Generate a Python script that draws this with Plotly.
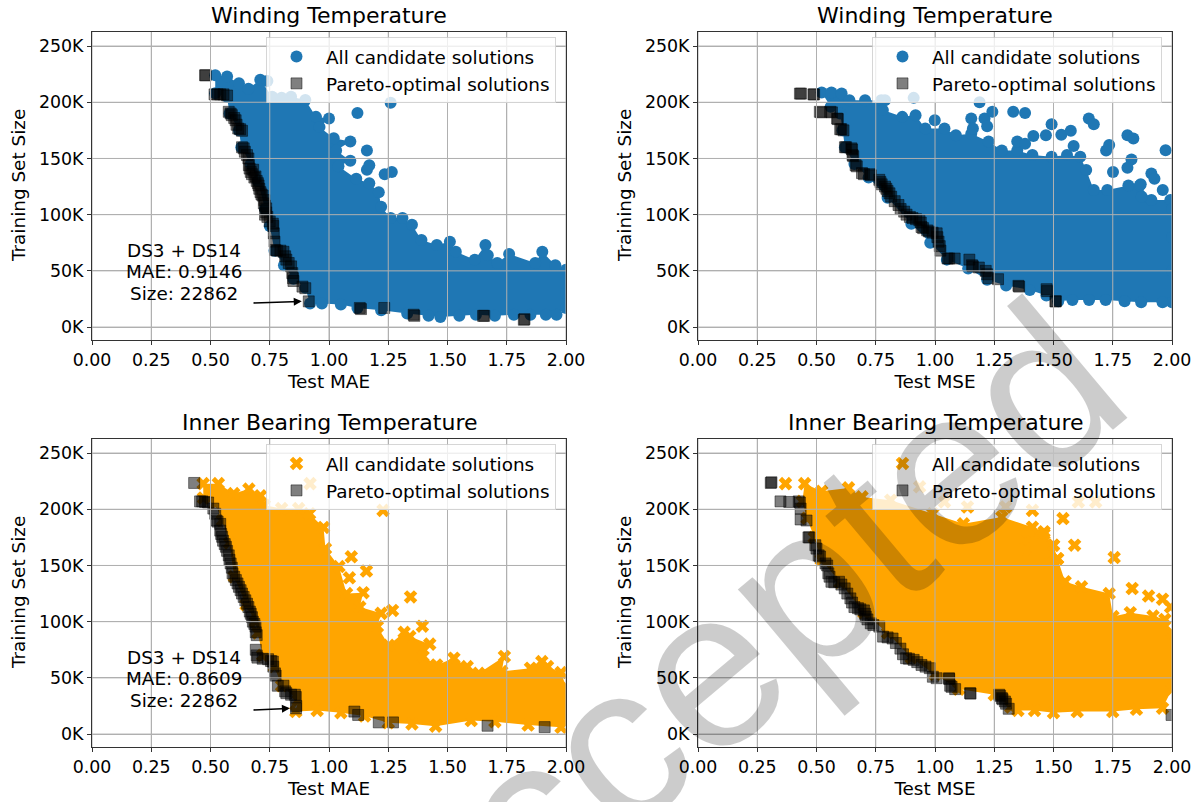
import plotly.graph_objects as go

W, H = 1200, 802
FONT = "DejaVu Sans"
BLUE = "#1f77b4"
ORANGE = "#ffa500"

x_ticks = [0, 0.25, 0.5, 0.75, 1.0, 1.25, 1.5, 1.75, 2.0]
x_tick_labels = ["0.00", "0.25", "0.50", "0.75", "1.00", "1.25", "1.50", "1.75", "2.00"]
y_ticks = [0, 50000, 100000, 150000, 200000, 250000]
y_tick_labels = ["0K", "50K", "100K", "150K", "200K", "250K"]

# ---- Winding MAE (sizes in thousands)
wm_edge_x = [0.52,0.57,0.62,0.66,0.71,0.76,0.84,0.90,0.945,1.00,0.96,1.02,1.09,1.03,1.09,1.04,1.115,1.17,1.21,1.22,1.26,1.31,1.35,1.39,1.455,1.51,1.535,1.615,1.66,1.67,1.71,1.76,1.87,1.90,1.955,2.0,2.0,2.0,1.96,1.915,1.85,1.78,1.70,1.62,1.55,1.47,1.42,1.33,1.22,1.12,1.05,0.97,0.92,0.90,0.85,0.81,0.77,0.75,0.73,0.70,0.67,0.63,0.62,0.58,0.57,0.52]
wm_edge_y = [224,223,217,212,220,205,205,202,187,185.5,178,168,165,157,148,143,132,128,120,107,97,97,91,77.5,73,76,67,60,73,64,57,65,57,67,55,51,30,17,11,11,11,11,10,11,10,9,10,12,15,17,20,21,21,35,43,55,68,90,105,130,145,160,175,190,205,208]
wm_out_x = [1.12,1.26,1.16,1.16,1.17,1.235,1.265,0.74,0.80]
wm_out_y = [190.5,199.5,157,140,144,136,138,219,204]
wm_par_x = [0.477,0.48,0.517,0.53,0.541,0.555,0.57,0.577,0.585,0.59,0.60,0.606,0.61,0.617,0.625,0.633,0.633,0.64,0.645,0.654,0.66,0.662,0.665,0.67,0.675,0.68,0.685,0.69,0.695,0.70,0.703,0.706,0.711,0.715,0.72,0.727,0.725,0.73,0.735,0.73,0.735,0.74,0.75,0.763,0.765,0.767,0.77,0.772,0.78,0.795,0.808,0.815,0.82,0.83,0.84,0.845,0.848,0.85,0.888,0.90,0.9146,1.13,1.135,1.233,1.357,1.36,1.65,1.655,1.822,1.825]
wm_par_y = [224,224,207,207,207,207,206,191.5,190,188.5,186,184,180,176.6,176,174.6,160,159,156,153,150,144,141,138,136,140,133,134,130,128,126,123,120,118,117,113,110,108,105.6,100,102,98,94,92,90,83.4,76,68.6,68,68,67,63,60,57,54,48,43.5,41,36,34.6,22.862,17,16,17,11,10,10,10,6.5,7]

# ---- Winding MSE
ws_edge_x = [0.522,0.563,0.606,0.639,0.705,0.773,0.789,0.78,0.862,0.918,0.959,1.04,1.088,1.153,1.226,1.282,1.347,1.411,1.492,1.557,1.613,1.638,1.67,1.727,1.816,1.864,1.913,1.993,2.0,2.0,2.0,2.0,1.96,1.87,1.80,1.72,1.65,1.58,1.52,1.47,1.40,1.30,1.22,1.14,1.05,0.98,0.90,0.80,0.72,0.66,0.62,0.61,0.60,0.56]
ws_edge_y = [208.6,208.6,207.7,201.8,201.8,201.8,201.8,193,187,188.5,176.6,176.6,170.7,172,165,157,157,153,151.5,153,151.5,139.7,122,122,126,126,113,113,105,80,50,22,22,22,23,24,24,24,23,28,33,37,42,52,60,75,92,115,133,145,160,175,190,196]
ws_out_x = [0.91,1.188,0.999,1.153,1.209,1.242,1.22,1.16,1.33,1.38,1.492,1.533,1.573,1.415,1.468,1.347,1.38,1.585,1.649,1.67,1.735,1.722,1.812,1.837,1.973,1.829,1.812,1.751,1.913,1.926,1.868,1.961,1.872]
ws_out_y = [203.9,200,184,185.5,185.5,191.5,178.7,176.6,191.5,190.5,180.5,171,174.6,170,170.7,165,163,161,185.5,180.5,162,157,170.7,167.8,157.4,149,141.7,138,136.7,132,127,122,116]
ws_par_x = [0.43,0.435,0.487,0.49,0.514,0.52,0.558,0.565,0.587,0.59,0.60,0.605,0.614,0.62,0.625,0.647,0.65,0.652,0.655,0.665,0.67,0.692,0.70,0.724,0.73,0.765,0.77,0.775,0.789,0.795,0.80,0.808,0.815,0.83,0.846,0.855,0.87,0.88,0.894,0.905,0.92,0.934,0.94,0.943,0.95,0.967,0.975,0.99,1.007,1.01,1.015,1.02,1.023,1.053,1.06,1.083,1.145,1.156,1.16,1.185,1.214,1.22,1.226,1.266,1.352,1.355,1.471,1.473,1.508,1.51]
ws_par_y = [207.7,207.7,207,207,191.5,191,191.5,191,185.5,185,176,176,175,160,160,159,158,153,152,144,143,137,136,136,135,131,129,127,125,123,121,119,116,112,108.6,105,102.7,100,98,97,96,95,93,89,88,86,85,84,83.4,80,76,72,68,61,61,61,60,55,54,53,50,47,43.5,42.6,36.7,36,33.7,32,22.8,23]

# ---- Inner bearing MAE
bm_edge_x = [0.469,0.533,0.598,0.662,0.711,0.727,0.80,0.872,0.918,0.977,0.985,1.042,1.074,1.144,1.13,1.22,1.204,1.252,1.317,1.341,1.425,1.397,1.454,1.527,1.583,1.632,1.74,1.729,1.85,1.898,1.922,1.979,2.0,2.0,1.979,1.84,1.70,1.60,1.45,1.35,1.25,1.15,1.05,0.95,0.86,0.87,0.80,0.77,0.72,0.70,0.69,0.65,0.60,0.58,0.55,0.52,0.47]
bm_edge_y = [222.8,222.8,214,218,212,203.6,200.6,200.6,196,183.8,165,149,125,125.8,113,107.4,95.6,79,90.5,86.7,80,69,61.5,67.5,60,54,69,55.6,58.6,64.5,60,54.7,42,12,6,8,11,12,7,9,10,16,19,21,20,30,43,60,70,90,100,115,140,170,190,205,210]
bm_out_x = [0.92,1.228,1.094,1.158,1.086,1.344,1.268,1.394]
bm_out_y = [222.8,199,157.7,145,139,122,110,96]
bm_par_x = [0.431,0.456,0.465,0.477,0.49,0.512,0.52,0.525,0.53,0.541,0.541,0.545,0.549,0.553,0.56,0.565,0.57,0.577,0.58,0.585,0.59,0.593,0.60,0.607,0.614,0.62,0.627,0.633,0.64,0.647,0.654,0.66,0.666,0.67,0.675,0.679,0.685,0.69,0.691,0.695,0.691,0.695,0.698,0.72,0.743,0.755,0.763,0.765,0.772,0.775,0.784,0.808,0.815,0.82,0.84,0.856,0.86,0.8609,0.862,1.107,1.123,1.21,1.27,1.669,1.91]
bm_par_y = [223.4,207,207,206.5,206,200.6,196,190,189,187,181,178,175.5,172,169,166.6,163,159,155,151.8,148,143,140,137,134,131,128,125,122,119,116,113,109,107,104,100,98,95.6,90.5,88,75,70,68,67,66.6,65,64.5,60,54,52,43,43,38,36.4,35,35,33,22.862,25,20,17,10.4,10.4,7.4,6.2]

# ---- Inner bearing MSE
bs_edge_x = [0.45,0.522,0.635,0.692,0.813,0.991,1.12,1.282,1.411,1.46,1.50,1.517,1.549,1.618,1.735,1.751,1.824,1.92,1.97,2.0,2.0,1.96,1.85,1.75,1.60,1.50,1.42,1.35,1.32,1.25,1.10,1.00,0.90,0.80,0.70,0.60,0.52,0.49,0.46,0.44]
bs_edge_y = [222.8,216,219,211,208,196,187,193,184,178,168,156,135.5,131,125,104.5,108,105,102,90,40,23,22,20,20,19,21,21,24,35,40,53,68,90,108,135,155,175,192,207]
bs_out_x = [0.369,0.935,1.04,1.137,1.298,1.411,1.54,1.605,1.678,1.589,1.756,1.832,1.901,1.96,1.994,1.50,1.468,1.38,1.395,1.46,1.517]
bs_out_y = [222.8,220,206.5,202,202,199,191.7,206.5,206.5,168,157,129.5,122.8,120,113,168,152,165,180,180,156]
bs_par_x = [0.307,0.31,0.348,0.385,0.425,0.43,0.433,0.433,0.458,0.466,0.47,0.495,0.50,0.509,0.515,0.538,0.545,0.55,0.555,0.563,0.575,0.595,0.605,0.619,0.63,0.643,0.65,0.66,0.675,0.685,0.70,0.705,0.708,0.715,0.729,0.74,0.765,0.781,0.80,0.821,0.835,0.854,0.865,0.878,0.89,0.91,0.925,0.943,0.96,0.978,0.991,1.007,1.059,1.06,1.064,1.07,1.085,1.148,1.15,1.271,1.275,1.282,1.285,1.295,1.30,1.311,1.998]
bs_par_y = [223.4,224,207,206.5,207,206,200.6,190.9,190,175,175,168,165,159,158,151.8,150,143,140,135.5,135,135.5,133,129.6,125,120.7,117,113,112,111,110,107,104.5,102,98.5,97,95.6,86.7,86,85,81,76,71,67.5,67,66,64,61.5,60,58.6,51,49.7,49.7,49,43,42,40,36.4,36,35,34,32,31,29,27,22.5,17]

panels = [
    dict(title="Winding Temperature", xlabel="Test MAE", color=BLUE, symbol="circle", size=12,
         edge=(wm_edge_x, wm_edge_y), out=(wm_out_x, wm_out_y), par=(wm_par_x, wm_par_y),
         note=["DS3 + DS14", "MAE: 0.9146", "Size: 22862"], tip=(0.885, 22862), left=92, top=32),
    dict(title="Winding Temperature", xlabel="Test MSE", color=BLUE, symbol="circle", size=12,
         edge=(ws_edge_x, ws_edge_y), out=(ws_out_x, ws_out_y), par=(ws_par_x, ws_par_y),
         note=None, tip=None, left=698, top=32),
    dict(title="Inner Bearing Temperature", xlabel="Test MAE", color=ORANGE, symbol="x", size=12,
         edge=(bm_edge_x, bm_edge_y), out=(bm_out_x, bm_out_y), par=(bm_par_x, bm_par_y),
         note=["DS3 + DS14", "MAE: 0.8609", "Size: 22862"], tip=(0.835, 22862), left=92, top=439),
    dict(title="Inner Bearing Temperature", xlabel="Test MSE", color=ORANGE, symbol="x", size=12,
         edge=(bs_edge_x, bs_edge_y), out=(bs_out_x, bs_out_y), par=(bs_par_x, bs_par_y),
         note=None, tip=None, left=698, top=439),
]

fig = go.Figure()
AW, AH = 474, 308
annotations, shapes, layout = [], [], {}
TXT = 18.4
note_levels = [67700, 49000, 30300]

for i, p in enumerate(panels, start=1):
    s = "" if i == 1 else str(i)
    xa, ya = f"x{s}", f"y{s}"
    lg = f"legend{s}"
    l, t = p["left"], p["top"]
    marker = dict(color=p["color"], symbol=p["symbol"], size=p["size"], line=dict(width=0))

    fig.add_trace(go.Scatter(
        x=p["edge"][0], y=[v * 1000 for v in p["edge"][1]], mode="markers",
        fill="toself", fillcolor=p["color"], marker=marker, xaxis=xa, yaxis=ya,
        showlegend=False, legendgroup=f"a{i}", legend=lg))
    fig.add_trace(go.Scatter(
        x=p["out"][0], y=[v * 1000 for v in p["out"][1]], mode="markers",
        name="All candidate solutions", marker=marker, xaxis=xa, yaxis=ya,
        legendgroup=f"a{i}", legend=lg))
    fig.add_trace(go.Scatter(
        x=p["par"][0], y=[v * 1000 for v in p["par"][1]], mode="markers",
        name="Pareto-optimal solutions",
        marker=dict(color="rgba(0,0,0,0.5)", symbol="square", size=11,
                    line=dict(color="rgba(0,0,0,0.45)", width=1)),
        xaxis=xa, yaxis=ya, legendgroup=f"b{i}", legend=lg))

    axis_common = dict(showline=True, linecolor="#333333", linewidth=1, mirror=True,
                       ticks="outside", ticklen=4, tickcolor="#333333", showgrid=True,
                       gridcolor="#b0b0b0", gridwidth=1, zeroline=False, automargin=False,
                       tickfont=dict(family=FONT, size=17.4, color="black"))
    layout[f"xaxis{s}"] = dict(
        axis_common, domain=[l / W, (l + AW) / W], range=[0, 2], anchor=ya,
        tickmode="array", tickvals=x_ticks, ticktext=x_tick_labels,
        title=dict(text=p["xlabel"], font=dict(family=FONT, size=TXT, color="black"), standoff=6))
    layout[f"yaxis{s}"] = dict(
        axis_common, domain=[1 - (t + AH) / H, 1 - t / H], range=[-11500, 262500], anchor=xa,
        tickmode="array", tickvals=y_ticks, ticktext=y_tick_labels)
    layout[lg] = dict(
        x=(l + 174) / W, y=1 - (t + 5) / H, xanchor="left", yanchor="top",
        bgcolor="rgba(255,255,255,0.8)", bordercolor="rgba(204,204,204,0.8)", borderwidth=1,
        font=dict(family=FONT, size=TXT, color="black"), itemwidth=49, tracegroupgap=0,
        itemclick=False, itemdoubleclick=False)

    # grid drawn over the markers, as in the reference
    for v in x_ticks:
        shapes.append(dict(type="line", layer="above", xref=xa, yref=f"{ya} domain",
                           x0=v, x1=v, y0=0, y1=1, line=dict(color="#b0b0b0", width=1)))
    for v in y_ticks:
        shapes.append(dict(type="line", layer="above", xref=f"{xa} domain", yref=ya,
                           x0=0, x1=1, y0=v, y1=v, line=dict(color="#b0b0b0", width=1)))

    annotations.append(dict(text=p["title"], xref="paper", yref="paper",
                            x=(l + AW / 2) / W, y=1 - (t - 16) / H, showarrow=False,
                            xanchor="center", yanchor="middle",
                            font=dict(family=FONT, size=22, color="black")))
    annotations.append(dict(text="Training Set Size", xref="paper", yref="paper",
                            x=(l - 74) / W, y=1 - (t + AH / 2) / H, showarrow=False, textangle=-90,
                            xanchor="center", yanchor="middle",
                            font=dict(family=FONT, size=TXT, color="black")))
    if p["note"]:
        for line, level in zip(p["note"], note_levels):
            annotations.append(dict(text=line, xref=xa, yref=ya, x=0.388, y=level,
                                    showarrow=False, xanchor="center", yanchor="middle",
                                    font=dict(family=FONT, size=TXT, color="black")))
        annotations.append(dict(text="", xref=xa, yref=ya, axref=xa, ayref=ya,
                                x=p["tip"][0], y=p["tip"][1], ax=0.675, ay=21400,
                                showarrow=True, arrowhead=2, arrowsize=1, arrowwidth=1.6,
                                arrowcolor="black", standoff=0))

annotations.append(dict(text="Accepted", xref="paper", yref="paper", x=729 / W, y=1 - 650 / H,
                        showarrow=False, textangle=-40, xanchor="center", yanchor="middle",
                        font=dict(family="Liberation Sans", size=225, color="rgba(0,0,0,0.2)")))

fig.update_layout(width=W, height=H, margin=dict(l=0, r=0, t=0, b=0), autosize=False,
                  paper_bgcolor="white", plot_bgcolor="white",
                  font=dict(family=FONT, color="black"),
                  annotations=annotations, shapes=shapes, **layout)
fig.write_html("out.html", config={"displayModeBar": False},
               post_script="document.body.style.margin='0';document.documentElement.style.overflow='hidden';")
